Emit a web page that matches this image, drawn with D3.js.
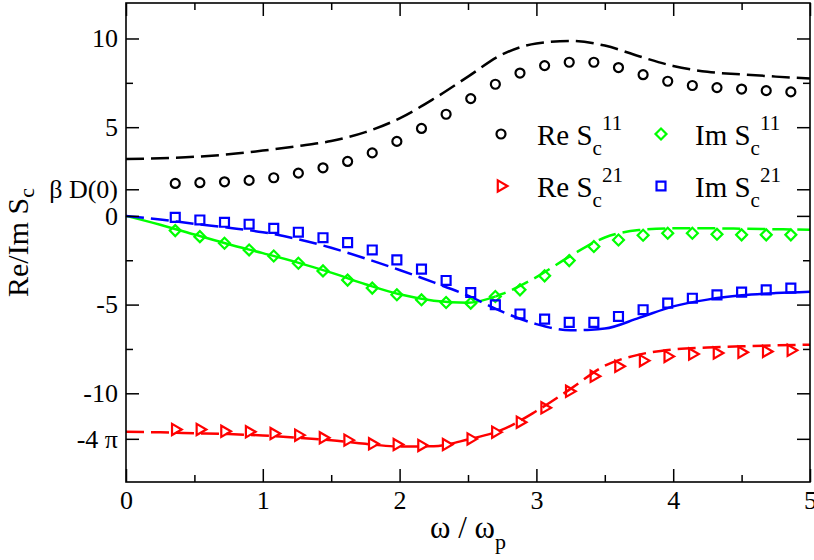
<!DOCTYPE html>
<html>
<head>
<meta charset="utf-8">
<script src="https://cdn.jsdelivr.net/npm/d3@7"></script>
<style>
  html, body { margin: 0; padding: 0; background: #fff; }
  svg { display: block; }
  text { font-family: "Liberation Serif", "Times New Roman", serif; fill: #000; }
</style>
</head>
<body>
<svg id="chart" width="814" height="560"></svg>
<script>
// ---------- data ----------
const markerX = [0.36, 0.54, 0.72, 0.90, 1.08, 1.26, 1.44, 1.62, 1.80, 1.98, 2.16, 2.34, 2.52,
                 2.70, 2.88, 3.06, 3.24, 3.42, 3.60, 3.78, 3.96, 4.14, 4.32, 4.50, 4.68, 4.86];
const reS11Pts = [1.83, 1.87, 1.92, 2.00, 2.15, 2.41, 2.71, 3.07, 3.55, 4.20, 4.93, 5.73, 6.61,
                  7.42, 8.05, 8.47, 8.66, 8.66, 8.36, 7.96, 7.59, 7.35, 7.23, 7.15, 7.06, 6.99];
const imS11Pts = [-0.83, -1.17, -1.54, -1.92, -2.26, -2.67, -3.10, -3.62, -4.07, -4.45, -4.73, -4.88, -4.92,
                  -4.54, -4.17, -3.38, -2.52, -1.73, -1.36, -1.09, -0.98, -0.98, -1.04, -1.07, -1.07, -1.07];
const reS21Pts = [-12.04, -12.04, -12.14, -12.17, -12.27, -12.36, -12.51, -12.64, -12.85, -12.89, -12.94, -12.89, -12.57,
                  -12.19, -11.63, -10.82, -9.89, -9.04, -8.48, -8.16, -7.92, -7.79, -7.73, -7.69, -7.64, -7.58];
const imS21Pts = [-0.08, -0.23, -0.36, -0.47, -0.70, -0.92, -1.23, -1.51, -1.92, -2.48, -3.00, -3.64, -4.32,
                  -5.01, -5.53, -5.82, -6.00, -6.00, -5.67, -5.29, -4.92, -4.64, -4.45, -4.30, -4.17, -4.07];

const lineX = [0, 0.25, 0.5, 0.75, 1, 1.25, 1.5, 1.75, 2, 2.25, 2.5, 2.75, 3, 3.25, 3.5, 3.75, 4, 4.25, 4.5, 4.75, 5];
const reS11Line = [3.2, 3.25, 3.33, 3.47, 3.68, 3.93, 4.22, 4.72, 5.5, 6.6, 7.85, 9.1, 9.72, 9.86, 9.6, 9.0, 8.45, 8.12, 7.98, 7.85, 7.74];
const imS11Line = [0, -0.5, -1.05, -1.6, -2.1, -2.62, -3.2, -3.85, -4.42, -4.78, -4.9, -4.4, -3.45, -2.25, -1.22, -0.8, -0.7, -0.7, -0.72, -0.75, -0.78];
const reS21Line = [-12.17, -12.2, -12.25, -12.3, -12.38, -12.5, -12.65, -12.85, -13.0, -12.98, -12.6, -12.05, -11.0, -9.75, -8.45, -7.82, -7.53, -7.42, -7.35, -7.3, -7.26];
const imS21Line = [0, -0.2, -0.45, -0.67, -0.92, -1.3, -1.8, -2.4, -3.05, -3.75, -4.5, -5.4, -6.1, -6.45, -6.35, -5.75, -5.1, -4.72, -4.48, -4.35, -4.27];

const xTicks = [0, 1, 2, 3, 4, 5];
const xTickLabels = ["0", "1", "2", "3", "4", "5"];
const xMinorTicks = [0.5, 1.5, 2.5, 3.5, 4.5];
const yTicks = [10, 5, 1.5, 0, -5, -10, -4 * Math.PI];
const yTickLabels = ["10", "5", "β D(0)", "0", "-5", "-10", "-4 π"];
const yMinorTicks = [7.5, -2.5, -7.5];

// ---------- layout ----------
const svg = d3.select("#chart");
const L = 126, R = 810, T = 3, B = 482;
const x = d3.scaleLinear().domain([0, 5]).range([L, R]);
const y = d3.scaleLinear().domain([-15, 12]).range([B, T]);

const series = [
  { pts: reS11Pts, line: reS11Line, color: "#000000", marker: "circle",  split: null },
  { pts: imS11Pts, line: imS11Line, color: "#00ff00", marker: "diamond", split: { at: 2.7, solidBefore: true } },
  { pts: reS21Pts, line: reS21Line, color: "#ff0000", marker: "triangle", split: null },
  { pts: imS21Pts, line: imS21Line, color: "#0000ff", marker: "square",  split: { at: 3.4, solidBefore: false } }
];
const DASH = "18,7";

const lineGen = d3.line().x(d => x(d[0])).y(d => y(d[1])).curve(d3.curveMonotoneX);

function markerPath(type) {
  if (type === "circle") return d3.symbol().type(d3.symbolCircle).size(Math.PI * 4.5 * 4.5)();
  if (type === "diamond") return d3.symbol().type(d3.symbolSquare).size(60)();
  if (type === "square") return d3.symbol().type(d3.symbolSquare).size(80)();
  if (type === "triangle") return d3.symbol().type(d3.symbolTriangle).size(54)();
}
function markerRot(type) {
  if (type === "diamond") return 45;
  if (type === "triangle") return 90;
  return 0;
}

// ---------- lines ----------
const defs = svg.append("defs");
const gLines = svg.append("g");
series.forEach((s, k) => {
  const data = lineX.map((v, i) => [v, s.line[i]]);
  if (!s.split) {
    gLines.append("path").attr("d", lineGen(data))
      .attr("fill", "none").attr("stroke", s.color).attr("stroke-width", 2.5)
      .attr("stroke-dasharray", DASH);
  } else {
    const id1 = "clipA" + k, id2 = "clipB" + k;
    defs.append("clipPath").attr("id", id1).append("rect")
      .attr("x", 0).attr("y", 0).attr("width", x(s.split.at)).attr("height", 560);
    defs.append("clipPath").attr("id", id2).append("rect")
      .attr("x", x(s.split.at)).attr("y", 0).attr("width", 814).attr("height", 560);
    gLines.append("path").attr("d", lineGen(data)).attr("clip-path", `url(#${id1})`)
      .attr("fill", "none").attr("stroke", s.color).attr("stroke-width", 2.5)
      .attr("stroke-dasharray", s.split.solidBefore ? null : DASH);
    gLines.append("path").attr("d", lineGen(data)).attr("clip-path", `url(#${id2})`)
      .attr("fill", "none").attr("stroke", s.color).attr("stroke-width", 2.5)
      .attr("stroke-dasharray", s.split.solidBefore ? DASH : null);
  }
});

// ---------- markers ----------
const gMarks = svg.append("g");
series.forEach(s => {
  gMarks.selectAll(null).data(markerX.map((v, i) => [v, s.pts[i]])).enter()
    .append("path")
    .attr("d", markerPath(s.marker))
    .attr("transform", d => `translate(${x(d[0])},${y(d[1])}) rotate(${markerRot(s.marker)})`)
    .attr("fill", "none").attr("stroke", s.color).attr("stroke-width", 2.2);
});

// ---------- axes ----------
const TICK = 13, MINOR = 7, TICKFONT = "26px";
function styleAxis(g) {
  g.select(".domain").remove();
  g.selectAll(".tick line").attr("stroke", "#000").attr("stroke-width", 1.5);
  g.selectAll("text").style("font-family", '"Liberation Serif", "Times New Roman", serif').attr("fill", "#000");
}
svg.append("g").attr("transform", `translate(0,${B})`)
  .call(d3.axisBottom(x).tickValues(xTicks).tickFormat((d, i) => xTickLabels[i]).tickSize(-TICK).tickPadding(9))
  .call(styleAxis).selectAll("text").style("font-size", TICKFONT);
svg.append("g").attr("transform", `translate(0,${B})`)
  .call(d3.axisBottom(x).tickValues(xMinorTicks).tickFormat("").tickSize(-MINOR)).call(styleAxis);
svg.append("g").attr("transform", `translate(0,${T})`)
  .call(d3.axisTop(x).tickValues(xTicks).tickFormat("").tickSize(-TICK)).call(styleAxis);
svg.append("g").attr("transform", `translate(0,${T})`)
  .call(d3.axisTop(x).tickValues(xMinorTicks).tickFormat("").tickSize(-MINOR)).call(styleAxis);

svg.append("g").attr("transform", `translate(${L},0)`)
  .call(d3.axisLeft(y).tickValues(yTicks).tickFormat((d, i) => yTickLabels[i]).tickSize(-TICK).tickPadding(8))
  .call(styleAxis).selectAll("text").style("font-size", TICKFONT);
svg.append("g").attr("transform", `translate(${L},0)`)
  .call(d3.axisLeft(y).tickValues(yMinorTicks).tickFormat("").tickSize(-MINOR)).call(styleAxis);
svg.append("g").attr("transform", `translate(${R},0)`)
  .call(d3.axisRight(y).tickValues(yTicks).tickFormat("").tickSize(-TICK)).call(styleAxis);
svg.append("g").attr("transform", `translate(${R},0)`)
  .call(d3.axisRight(y).tickValues(yMinorTicks).tickFormat("").tickSize(-MINOR)).call(styleAxis);

svg.append("rect").attr("x", L).attr("y", T).attr("width", R - L).attr("height", B - T)
  .attr("fill", "none").attr("stroke", "#000").attr("stroke-width", 1.6);

// ---------- titles ----------
const xt = svg.append("text").attr("x", (L + R) / 2).attr("y", 538)
  .attr("text-anchor", "middle").style("font-size", "31px");
xt.append("tspan").text("ω / ω");
xt.append("tspan").attr("dy", 11).style("font-size", "22px").text("p");

const yt = svg.append("text").attr("transform", `translate(28,${(T + B) / 2}) rotate(-90)`)
  .attr("text-anchor", "middle").style("font-size", "30px");
yt.append("tspan").text("Re/Im S");
yt.append("tspan").attr("dy", 6).style("font-size", "22px").text("c");

// ---------- legend ----------
const legendItems = [
  { s: 0, label: "Re S", sup: "11", col: 0, row: 0 },
  { s: 1, label: "Im S", sup: "11", col: 1, row: 0 },
  { s: 2, label: "Re S", sup: "21", col: 0, row: 1 },
  { s: 3, label: "Im S", sup: "21", col: 1, row: 1 }
];
const legX = [501, 661], legTextX = [537, 695], legY = [134, 186];
legendItems.forEach(it => {
  const s = series[it.s];
  const mx = legX[it.col], my = legY[it.row];
  svg.append("path").attr("d", markerPath(s.marker))
    .attr("transform", `translate(${mx},${my}) rotate(${markerRot(s.marker)})`)
    .attr("fill", "none").attr("stroke", s.color).attr("stroke-width", 2.2);
  const t = svg.append("text").attr("x", legTextX[it.col]).attr("y", my + 11).style("font-size", "29px");
  t.append("tspan").text(it.label);
  t.append("tspan").attr("dy", 10).style("font-size", "21px").text("c");
  t.append("tspan").attr("dy", -25).style("font-size", "21px").text(it.sup);
});
</script>
</body>
</html>
